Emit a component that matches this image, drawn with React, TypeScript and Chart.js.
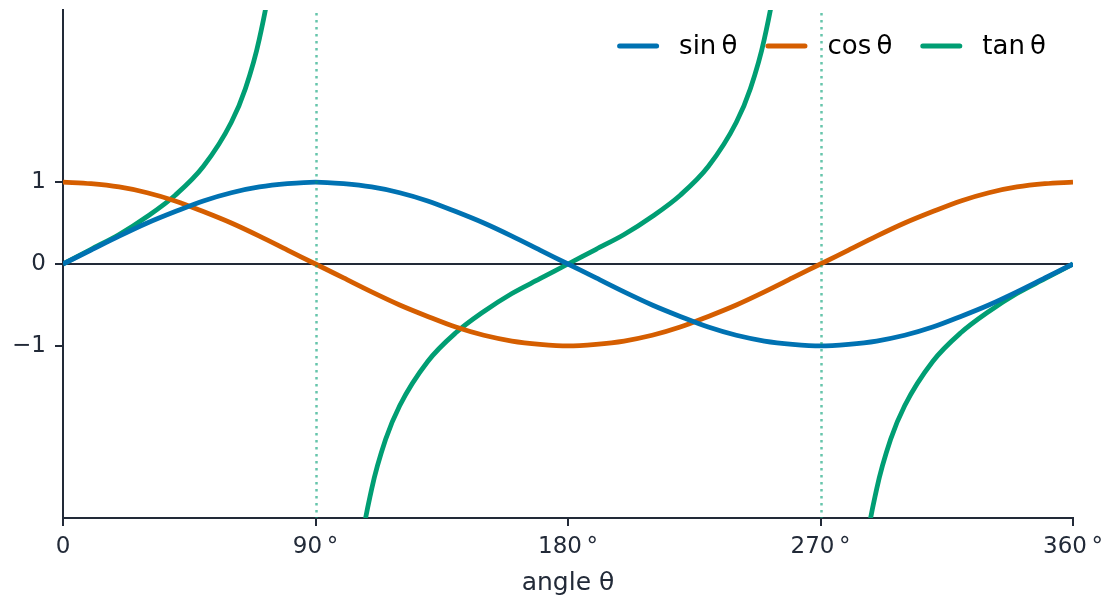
import React, { useEffect, useRef } from "react";
import { Chart, registerables } from "chart.js";

Chart.register(...registerables);

// ---- data ----
const trigAngles = [0, 10, 20, 30, 40, 50, 60, 70, 80, 90, 100, 110, 120, 130, 140, 150, 160, 170, 180, 190, 200, 210, 220, 230, 240, 250, 260, 270, 280, 290, 300, 310, 320, 330, 340, 350, 360];
const sinValues = [0, 0.17, 0.34, 0.5, 0.64, 0.77, 0.87, 0.94, 0.98, 1, 0.98, 0.94, 0.87, 0.77, 0.64, 0.5, 0.34, 0.17, 0, -0.17, -0.34, -0.5, -0.64, -0.77, -0.87, -0.94, -0.98, -1, -0.98, -0.94, -0.87, -0.77, -0.64, -0.5, -0.34, -0.17, 0];
const cosValues = [1, 0.98, 0.94, 0.87, 0.77, 0.64, 0.5, 0.34, 0.17, 0, -0.17, -0.34, -0.5, -0.64, -0.77, -0.87, -0.94, -0.98, -1, -0.98, -0.94, -0.87, -0.77, -0.64, -0.5, -0.34, -0.17, 0, 0.17, 0.34, 0.5, 0.64, 0.77, 0.87, 0.94, 0.98, 1];
const tanAngles = [0, 10, 20, 30, 40, 50, 60, 65, 70, 75, 80, 90, 100, 105, 110, 115, 120, 130, 140, 150, 160, 170, 180, 190, 200, 210, 220, 230, 240, 245, 250, 255, 260, 270, 280, 285, 290, 295, 300, 310, 320, 330, 340, 350, 360];
const tanValues = [0, 0.18, 0.36, 0.58, 0.84, 1.19, 1.73, 2.14, 2.75, 3.73, 5.67, null, -5.67, -3.73, -2.75, -2.14, -1.73, -1.19, -0.84, -0.58, -0.36, -0.18, 0, 0.18, 0.36, 0.58, 0.84, 1.19, 1.73, 2.14, 2.75, 3.73, 5.67, null, -5.67, -3.73, -2.75, -2.14, -1.73, -1.19, -0.84, -0.58, -0.36, -0.18, 0];
const asymptoteAngles = [90, 270];

const xTickValues = [0, 90, 180, 270, 360];
const xTickLabels = ["0", "90\u2009°", "180\u2009°", "270\u2009°", "360\u2009°"];
const yTickValues = [-1, 0, 1];
const yTickLabels = ["\u22121", "0", "1"];
const seriesLabels = ["sin\u2009θ", "cos\u2009θ", "tan\u2009θ"];
const xAxisTitle = "angle θ";

const COLORS = ["#0072B2", "#D55E00", "#009E73"];
const DARK = "#222a38";
const FONT = "'DejaVu Sans', sans-serif";

const overlayPlugin = {
  id: "overlay",
  beforeDatasetsDraw(chart: any) {
    const { ctx, chartArea, scales } = chart;
    const y0 = scales.y.getPixelForValue(0);
    ctx.save();
    ctx.strokeStyle = DARK;
    ctx.lineWidth = 2;
    ctx.beginPath();
    ctx.moveTo(chartArea.left, y0);
    ctx.lineTo(chartArea.right, y0);
    ctx.stroke();
    ctx.restore();
  },
  afterDatasetsDraw(chart: any) {
    const { ctx, chartArea, scales } = chart;
    ctx.save();
    ctx.strokeStyle = "rgba(0,158,115,0.6)";
    ctx.lineWidth = 2.5;
    ctx.setLineDash([2.5, 4.5]);
    for (const a of asymptoteAngles) {
      const x = Math.round(scales.x.getPixelForValue(a)) + 0.5;
      ctx.beginPath();
      ctx.moveTo(x, chartArea.top + 3);
      ctx.lineTo(x, chartArea.bottom);
      ctx.stroke();
    }
    ctx.restore();
  },
  afterDraw(chart: any) {
    // legend, drawn inside the plot area at the top right
    const { ctx, chartArea } = chart;
    const datasets = chart.data.datasets;
    ctx.save();
    ctx.font = `26px ${FONT}`;
    ctx.textBaseline = "middle";
    ctx.textAlign = "left";
    const lineW = 5;
    const lineVis = 42;
    const textOffset = 62;
    const itemGap = 28;
    const cy = chartArea.top + 36;
    let x = chartArea.right - 27;
    const widths = datasets.map((d: any) => ctx.measureText(d.label).width);
    const starts: number[] = [];
    for (let i = datasets.length - 1; i >= 0; i--) {
      x -= widths[i] + textOffset;
      starts[i] = x;
      x -= itemGap;
    }
    datasets.forEach((d: any, i: number) => {
      const sx = starts[i];
      ctx.strokeStyle = d.borderColor;
      ctx.lineWidth = lineW;
      ctx.lineCap = "round";
      ctx.beginPath();
      ctx.moveTo(sx + lineW / 2, cy);
      ctx.lineTo(sx + lineVis - lineW / 2, cy);
      ctx.stroke();
      ctx.fillStyle = "#000";
      ctx.fillText(d.label, sx + textOffset, cy + 1);
    });
    ctx.restore();
  },
};

export default function App() {
  const ref = useRef<HTMLCanvasElement>(null);
  useEffect(() => {
    document.body.style.margin = "0";
    Chart.defaults.font.family = FONT;
    Chart.defaults.color = DARK;
    const mk = (xs: number[], ys: (number | null)[]) => xs.map((x, i) => ({ x, y: ys[i] }));
    const chart = new Chart(ref.current!, {
      type: "line",
      data: {
        datasets: [
          { label: seriesLabels[0], data: mk(trigAngles, sinValues) },
          { label: seriesLabels[1], data: mk(trigAngles, cosValues) },
          { label: seriesLabels[2], data: mk(tanAngles, tanValues) },
        ].map((d, i) => ({
          ...d,
          borderColor: COLORS[i],
          backgroundColor: COLORS[i],
          borderWidth: 4.8,
          pointRadius: 0,
          cubicInterpolationMode: "monotone" as const,
          spanGaps: false,
          clip: 0,
          fill: false,
        })),
      },
      options: {
        animation: false,
        responsive: false,
        maintainAspectRatio: false,
        layout: { padding: { top: 10, right: 29, left: 0, bottom: 0 } },
        plugins: {
          tooltip: { enabled: false },
          legend: { display: false },
        },
        scales: {
          x: {
            type: "linear",
            min: 0,
            max: 360,
            afterBuildTicks(s: any) {
              s.ticks = xTickValues.map((v) => ({ value: v }));
            },
            afterFit(s: any) {
              s.height = 81;
              s.paddingLeft = 0;
              s.paddingRight = 0;
              s.paddingTop = 0;
              s.paddingBottom = 0;
            },
            ticks: {
              autoSkip: false,
              maxRotation: 0,
              padding: 7,
              color: DARK,
              font: { size: 23, family: FONT },
              callback: (v: any) => xTickLabels[xTickValues.indexOf(v)] ?? "",
            },
            grid: { drawOnChartArea: false, drawTicks: true, tickLength: 8, color: DARK, lineWidth: 2 },
            border: { display: true, color: DARK, width: 2 },
            title: { display: true, text: xAxisTitle, color: DARK, font: { size: 25, family: FONT }, padding: { top: 0, bottom: 1 } },
          },
          y: {
            type: "linear",
            min: -3.1,
            max: 3.1,
            afterBuildTicks(s: any) {
              s.ticks = yTickValues.map((v) => ({ value: v }));
            },
            afterFit(s: any) {
              s.width = 63;
              s.paddingLeft = 0;
              s.paddingRight = 0;
              s.paddingTop = 0;
              s.paddingBottom = 0;
            },
            ticks: {
              padding: 9,
              color: DARK,
              font: { size: 23, family: FONT },
              callback: (v: any) => yTickLabels[yTickValues.indexOf(v)] ?? "",
            },
            grid: { drawOnChartArea: false, drawTicks: true, tickLength: 8, color: DARK, lineWidth: 2 },
            border: { display: true, color: DARK, width: 2 },
          },
        },
      },
      plugins: [overlayPlugin],
    } as any);
    return () => chart.destroy();
  }, []);
  return <canvas ref={ref} width={1102} height={599} style={{ display: "block" }} />;
}
